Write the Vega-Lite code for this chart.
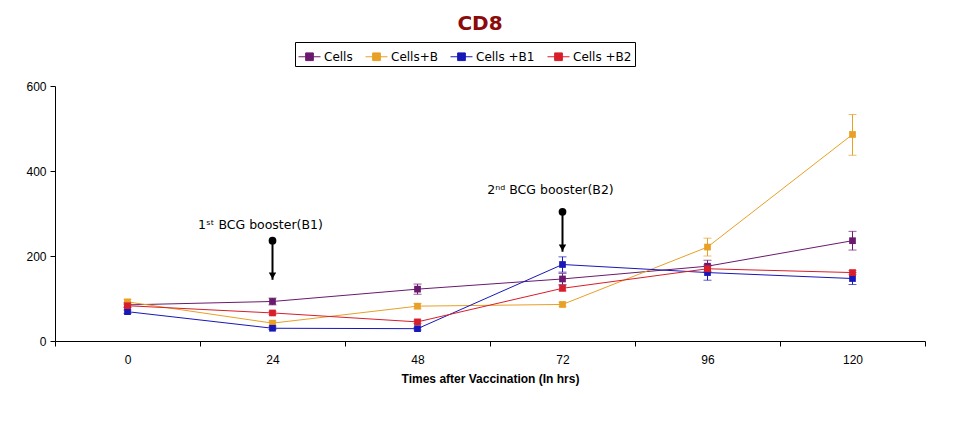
{
  "$schema": "https://vega.github.io/schema/vega-lite/v6.json",
  "width": 870,
  "height": 255,
  "autosize": {"type": "none"},
  "padding": {"left": 55, "top": 86, "right": 32, "bottom": 84},
  "background": "white",
  "title": {"text": "CD8", "color": "#8b0a0a", "fontSize": 20, "fontWeight": "bold", "font": "DejaVu Sans", "offset": 8, "dx": -10},
  "config": {"view": {"stroke": null}},
  "datasets": {
    "cd8": [
      {"series": "Cells", "time": 0, "value": 85, "lo": 80, "hi": 90},
      {"series": "Cells", "time": 24, "value": 93, "lo": 85, "hi": 101},
      {"series": "Cells", "time": 48, "value": 122, "lo": 110, "hi": 134},
      {"series": "Cells", "time": 72, "value": 146, "lo": 133, "hi": 159},
      {"series": "Cells", "time": 96, "value": 176, "lo": 162, "hi": 190},
      {"series": "Cells", "time": 120, "value": 236, "lo": 214, "hi": 258},
      {"series": "Cells+B", "time": 0, "value": 92, "lo": 86, "hi": 98},
      {"series": "Cells+B", "time": 24, "value": 42, "lo": 37, "hi": 47},
      {"series": "Cells+B", "time": 48, "value": 82, "lo": 76, "hi": 88},
      {"series": "Cells+B", "time": 72, "value": 86, "lo": 81, "hi": 91},
      {"series": "Cells+B", "time": 96, "value": 221, "lo": 200, "hi": 242},
      {"series": "Cells+B", "time": 120, "value": 486, "lo": 437, "hi": 533},
      {"series": "Cells +B1", "time": 0, "value": 69, "lo": 65, "hi": 73},
      {"series": "Cells +B1", "time": 24, "value": 30, "lo": 27, "hi": 33},
      {"series": "Cells +B1", "time": 48, "value": 29, "lo": 26, "hi": 32},
      {"series": "Cells +B1", "time": 72, "value": 180, "lo": 162, "hi": 198},
      {"series": "Cells +B1", "time": 96, "value": 161, "lo": 143, "hi": 179},
      {"series": "Cells +B1", "time": 120, "value": 147, "lo": 133, "hi": 161},
      {"series": "Cells +B2", "time": 0, "value": 83, "lo": 79, "hi": 87},
      {"series": "Cells +B2", "time": 24, "value": 66, "lo": 62, "hi": 70},
      {"series": "Cells +B2", "time": 48, "value": 45, "lo": 41, "hi": 49},
      {"series": "Cells +B2", "time": 72, "value": 124, "lo": 118, "hi": 130},
      {"series": "Cells +B2", "time": 96, "value": 170, "lo": 164, "hi": 176},
      {"series": "Cells +B2", "time": 120, "value": 161, "lo": 156, "hi": 166}
    ],
    "anno": [
      {"time": 24, "label": "1ˢᵗ BCG booster(B1)", "dot": 236, "tip": 144, "ly": 272},
      {"time": 72, "label": "2ⁿᵈ BCG booster(B2)", "dot": 304, "tip": 210, "ly": 356}
    ]
  },
  "encoding": {
    "x": {
      "field": "time", "type": "ordinal", "sort": "ascending", "bandPosition": 0.5,
      "scale": {"type": "band", "paddingInner": 0, "paddingOuter": 0},
      "axis": {
        "title": "Times after Vaccination (In hrs)", "labelAngle": 0, "tickBand": "extent",
        "domainColor": "black", "tickColor": "black", "tickSize": 5, "labelPadding": 8,
        "labelFont": "Liberation Sans Narrow, Liberation Sans", "labelFontSize": 12, "labelColor": "black",
        "titleFont": "Liberation Sans Narrow, Liberation Sans", "titleFontSize": 12, "titleFontWeight": "bold", "titleColor": "black", "titlePadding": 8
      }
    }
  },
  "layer": [
    {
      "data": {"name": "cd8"},
      "mark": {"type": "rule", "strokeWidth": 1},
      "encoding": {
        "y": {"field": "lo", "type": "quantitative"},
        "y2": {"field": "hi"},
        "color": {"field": "series", "type": "nominal"}
      }
    },
    {
      "data": {"name": "cd8"},
      "mark": {"type": "tick", "size": 8, "thickness": 1, "orient": "horizontal"},
      "encoding": {
        "y": {"field": "lo", "type": "quantitative"},
        "color": {"field": "series", "type": "nominal"}
      }
    },
    {
      "data": {"name": "cd8"},
      "mark": {"type": "tick", "size": 8, "thickness": 1, "orient": "horizontal"},
      "encoding": {
        "y": {"field": "hi", "type": "quantitative"},
        "color": {"field": "series", "type": "nominal"}
      }
    },
    {
      "data": {"name": "cd8"},
      "mark": {"type": "line", "strokeWidth": 1},
      "encoding": {
        "y": {
          "field": "value", "type": "quantitative",
          "scale": {"domain": [0, 600], "nice": false},
          "axis": {"title": null, "values": [0, 200, 400, 600], "grid": false, "domainColor": "black", "tickColor": "black", "tickSize": 5, "labelPadding": 4, "labelFont": "Liberation Sans", "labelFontSize": 12, "labelColor": "black"}
        },
        "color": {
          "field": "series", "type": "nominal",
          "scale": {"domain": ["Cells", "Cells+B", "Cells +B1", "Cells +B2"], "range": ["#6a1a6e", "#e8a025", "#1818b8", "#d81e2a"]},
          "legend": {
            "title": null, "orient": "none", "legendX": 240, "legendY": -44, "direction": "horizontal",
            "strokeColor": "black", "padding": 3, "symbolType": "M-1,0H1M-0.35,-0.35H0.35V0.35H-0.35Z",
            "symbolSize": 484, "symbolStrokeWidth": 1, "labelFont": "DejaVu Sans", "labelFontSize": 12, "labelFontWeight": "normal", "labelColor": "black",
            "columnPadding": 10, "labelOffset": 3,
            "encode": {"symbols": {"update": {"fill": {"scale": "color", "field": "value"}, "stroke": {"scale": "color", "field": "value"}, "fillOpacity": {"value": 1}, "strokeWidth": {"value": 1}}}}
          }
        }
      }
    },
    {
      "data": {"name": "cd8"},
      "mark": {"type": "point", "shape": "square", "filled": true, "size": 45, "opacity": 1},
      "encoding": {
        "y": {"field": "value", "type": "quantitative"},
        "color": {"field": "series", "type": "nominal"}
      }
    },
    {
      "data": {"name": "anno"},
      "mark": {"type": "rule", "strokeWidth": 2, "color": "black"},
      "encoding": {"y": {"field": "dot", "type": "quantitative"}, "y2": {"field": "tip"}}
    },
    {
      "data": {"name": "anno"},
      "mark": {"type": "point", "shape": "circle", "filled": true, "size": 60, "color": "black", "opacity": 1},
      "encoding": {"y": {"field": "dot", "type": "quantitative"}}
    },
    {
      "data": {"name": "anno"},
      "mark": {"type": "point", "shape": "triangle-down", "filled": true, "size": 55, "color": "black", "opacity": 1, "yOffset": -4},
      "encoding": {"y": {"field": "tip", "type": "quantitative"}}
    },
    {
      "data": {"name": "anno"},
      "mark": {"type": "text", "font": "DejaVu Sans", "fontSize": 12.5, "color": "black", "dx": -12},
      "encoding": {"y": {"field": "ly", "type": "quantitative"}, "text": {"field": "label"}}
    }
  ]
}
